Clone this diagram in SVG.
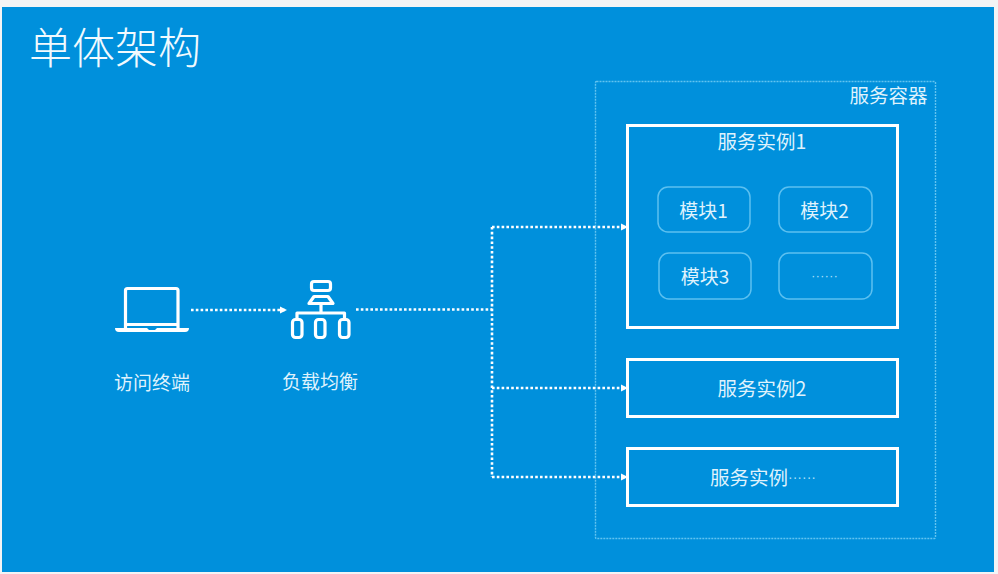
<svg xmlns="http://www.w3.org/2000/svg" width="998" height="574" viewBox="0 0 998 574">
<style>
text{font-family:"Noto Sans CJK SC","Noto Sans",sans-serif;fill:#dff2fc;font-weight:400;text-anchor:middle}
.l{font-size:19.500px}
.m{font-size:19px}
.s{font-size:19px}
.d{font-family:"Liberation Sans",sans-serif;fill:#a8dff8}
.inst{fill:none;stroke:#fff;stroke-width:3}
.mod{fill:none;stroke:#5cc0f0;stroke-width:1.500}
.dot{fill:none;stroke:#fff;stroke-width:2.600;stroke-dasharray:2.600 2.200}
.ic{fill:none;stroke:#fff;stroke-width:3.200;stroke-linejoin:round}
</style>
<defs><marker id="a" markerWidth="8" markerHeight="8" refX="7" refY="4" orient="auto" markerUnits="userSpaceOnUse"><path d="M0 0.500L7 4L0 7.500Z" fill="#fff"/></marker></defs>
<rect width="998" height="574" fill="#f3f4f5"/>
<rect x="2" y="7" width="992" height="565" fill="#0090dc"/>
<g id="title"><text x="115" y="64" style="font-size:43px;fill:#f2fafe;font-weight:300">单体架构</text></g>
<g id="container"><rect x="595.500" y="81.500" width="340" height="457" rx="1" fill="none" stroke="#62c3f0" stroke-width="1.400" stroke-dasharray="2 1"/><text x="888.500" y="103" class="l">服务容器</text></g>
<g id="connectors">
<path class="dot" d="M191 310H287" marker-end="url(#a)"/>
<path class="dot" d="M356 309.500H492"/>
<path class="dot" d="M492 227V477"/>
<path class="dot" d="M492 227H628" marker-end="url(#a)"/>
<path class="dot" d="M492 388H628" marker-end="url(#a)"/>
<path class="dot" d="M492 477H628" marker-end="url(#a)"/>
</g>
<g id="terminal"><path d="M125.500 328V290.500Q125.500 288.500 127.500 288.500H176Q178 288.500 178 290.500V328M125.500 324.500H178" class="ic"/><path d="M115 328H147L149 330H155L157 328H189Q189 332 185 332H119Q115 332 115 328Z" fill="#fff"/><text x="152" y="390" class="s">访问终端</text></g>
<g id="lb">
<rect x="311.500" y="281.500" width="19" height="9" rx="2.500" class="ic"/>
<path d="M314 296.500H328L333 303.500H309Z" class="ic"/>
<path d="M321 304V313M297 319V313H344.500V319" class="ic"/>
<rect x="292.500" y="319.500" width="9.500" height="18" rx="3" class="ic"/>
<rect x="315.500" y="319.500" width="9.500" height="18" rx="3" class="ic"/>
<rect x="339.500" y="319.500" width="9.500" height="18" rx="3" class="ic"/>
<text x="320" y="389" class="s">负载均衡</text></g>
<g id="inst1"><rect x="627.500" y="125.500" width="270" height="202" class="inst"/><text x="762" y="149" class="l">服务实例1</text></g>
<g id="m1"><rect x="658" y="187" width="92" height="45" rx="10" class="mod"/><text x="703.500" y="218" class="m">模块1</text></g>
<g id="m2"><rect x="779" y="187" width="93" height="45" rx="10" class="mod"/><text x="824.500" y="218" class="m">模块2</text></g>
<g id="m3"><rect x="659" y="253" width="92" height="46" rx="10" class="mod"/><text x="705" y="284" class="m">模块3</text></g>
<g id="m4"><rect x="779" y="253" width="93" height="46" rx="10" class="mod"/><text x="824.500" y="280" class="d" style="font-size:13.500px">······</text></g>
<g id="inst2"><rect x="627.500" y="359.500" width="270" height="57" class="inst"/><text x="762" y="396" class="l">服务实例2</text></g>
<g id="inst3"><rect x="627.500" y="448.500" width="270" height="57" class="inst"/><text x="710" y="485" class="l" style="text-anchor:start">服务实例<tspan class="d" dy="-3" style="font-size:14px">······</tspan></text></g>
</svg>
